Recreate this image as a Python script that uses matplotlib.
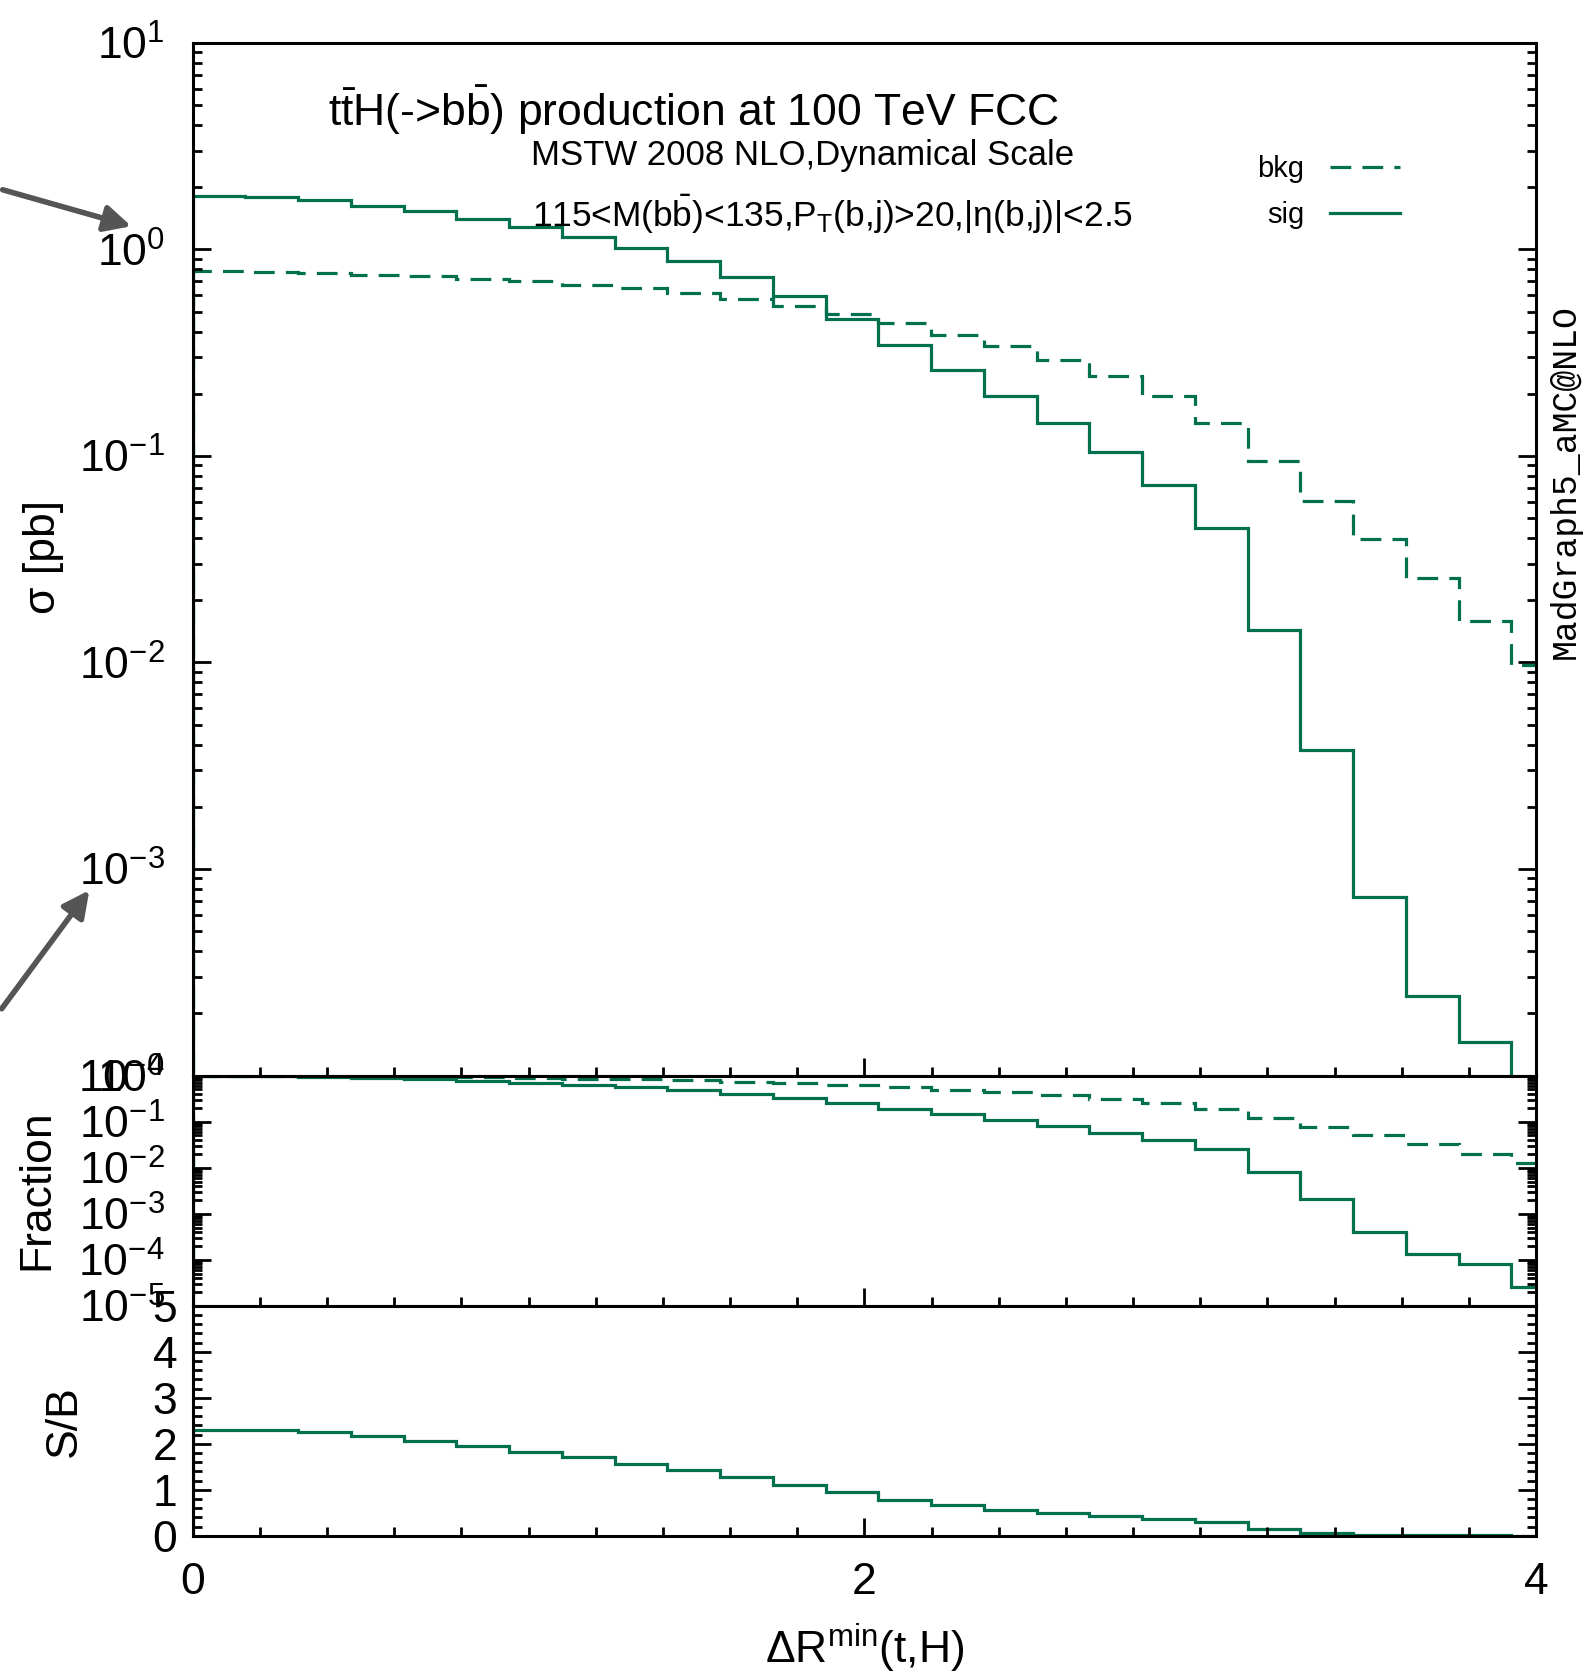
import numpy as np
import matplotlib
matplotlib.use("Agg")
import matplotlib.pyplot as plt
from matplotlib.lines import Line2D
from matplotlib.ticker import LogLocator, MultipleLocator, NullFormatter, FixedLocator

plt.rcParams['font.family'] = ['Liberation Sans', 'DejaVu Sans']
plt.rcParams['mathtext.fontset'] = 'custom'
plt.rcParams['mathtext.rm'] = 'Liberation Sans'
plt.rcParams['mathtext.it'] = 'Liberation Sans:italic'
plt.rcParams['mathtext.bf'] = 'Liberation Sans:bold'

# bins of width pi/20 in Delta R
edges = np.arange(27) * np.pi / 20

# cross section per bin [pb]
sig = [1.81, 1.79, 1.73, 1.63, 1.53, 1.41, 1.28, 1.15, 1.01, 0.875,
       0.737, 0.593, 0.459, 0.344, 0.260, 0.194, 0.144, 0.105, 0.0726, 0.0450,
       0.01435, 0.00376, 0.000733, 0.000244, 0.000146, 4.7e-5]
bkg = [0.783, 0.777, 0.765, 0.754, 0.743, 0.721, 0.705, 0.674, 0.650, 0.615,
       0.577, 0.532, 0.485, 0.439, 0.387, 0.340, 0.291, 0.243, 0.194, 0.144,
       0.0940, 0.0603, 0.0394, 0.0257, 0.0158, 0.00976]

sig = np.array(sig)
bkg = np.array(bkg)
frac_sig = sig / sig[0]
frac_bkg = bkg / bkg[0]
sb = sig / bkg

col = '#00704E'
dash = (0, (6.5, 3.5))
W, H = 1583, 1678

fig = plt.figure(figsize=(W / 100, H / 100), dpi=100)
ax1 = fig.add_axes([0.12173, 0.35900, 0.84858, 0.61549])
ax2 = fig.add_axes([0.12173, 0.22181, 0.84858, 0.13719])
ax3 = fig.add_axes([0.12173, 0.08469, 0.84858, 0.13712])

# main panel
ax1.stairs(bkg, edges, color=col, lw=2.3, linestyle=dash)
ax1.stairs(sig, edges, color=col, lw=2.3)
ax1.set_yscale('log')
ax1.set_ylim(1e-4, 10)

# fraction panel
ax2.stairs(frac_bkg, edges, color=col, lw=2.3, linestyle=dash)
ax2.stairs(frac_sig, edges, color=col, lw=2.3)
ax2.set_yscale('log')
ax2.set_ylim(1e-5, 1)

# S/B panel
ax3.stairs(sb, edges, color=col, lw=2.3)
ax3.set_ylim(0, 5)
ax3.yaxis.set_major_locator(MultipleLocator(1))
ax3.yaxis.set_minor_locator(MultipleLocator(0.2))

for ax in (ax1, ax2, ax3):
    ax.set_xlim(0, 4)
    ax.xaxis.set_major_locator(FixedLocator([0, 2, 4]))
    ax.xaxis.set_minor_locator(MultipleLocator(0.2))
    ax.tick_params(which='both', direction='in', top=False, right=True,
                   width=2, labelsize=32)
    ax.tick_params(which='major', length=13)
    ax.tick_params(which='minor', length=6.5)
    for s in ax.spines.values():
        s.set_linewidth(2.2)

for ax in (ax1, ax2):
    ax.yaxis.set_major_locator(LogLocator(base=10, numticks=20))
    ax.yaxis.set_minor_locator(LogLocator(base=10, subs=np.arange(2, 10), numticks=20))
    ax.yaxis.set_minor_formatter(NullFormatter())
    ax.tick_params(axis='y', pad=20)
    ax.tick_params(axis='x', labelbottom=False)

ax3.tick_params(axis='y', pad=11)
ax3.tick_params(axis='x', pad=19)

# legend
handles = [Line2D([], [], color=col, lw=2.3, linestyle=dash),
           Line2D([], [], color=col, lw=2.3)]
ax1.legend(handles, ['bkg', 'sig'], loc='upper right', bbox_to_anchor=(0.899, 0.891),
           frameon=False, markerfirst=False, fontsize=21, handlelength=2.4,
           handletextpad=0.9, labelspacing=0.6, borderpad=0, borderaxespad=0)

# texts
def ft(x, y, s, **kw):
    fig.text(x / W, 1 - y / H, s, ha='center', va='center', **kw)

ft(694, 110, r't$\bar{\mathrm{t}}$H(->b$\bar{\mathrm{b}}$) production at 100 TeV FCC', fontsize=32)
ft(803, 155, 'MSTW 2008 NLO,Dynamical Scale', fontsize=25)
fig.text(532 / W, 1 - 214 / H,
         r'115<M(b$\bar{\mathrm{b}}$)<135,P$_\mathrm{T}$(b,j)>20,|η(b,j)|<2.5',
         ha='left', va='center', fontsize=25.5)
ft(1565, 482, 'MadGraph5_aMC@NLO', rotation=90, fontsize=25, family='Liberation Mono')

ft(43, 557, 'σ [pb]', rotation=90, fontsize=32)
ft(37, 1190, 'Fraction', rotation=90, fontsize=32)
ft(64, 1421, 'S/B', rotation=90, fontsize=32)
ft(865, 1648, r'ΔR$^{\mathrm{min}}$(t,H)', fontsize=32)

# grey arrows pointing at the tick labels
arrow = dict(arrowstyle='-|>', color='#555555', lw=4, mutation_scale=40)
ax1.annotate('', xy=(134 / W, 1 - 227 / H), xytext=(0, 1 - 189 / H),
             xycoords='figure fraction', textcoords='figure fraction',
             arrowprops=arrow, annotation_clip=False)
ax1.annotate('', xy=(91 / W, 1 - 888 / H), xytext=(0, 1 - 1011 / H),
             xycoords='figure fraction', textcoords='figure fraction',
             arrowprops=arrow, annotation_clip=False)

fig.savefig('out.png', dpi=100)
